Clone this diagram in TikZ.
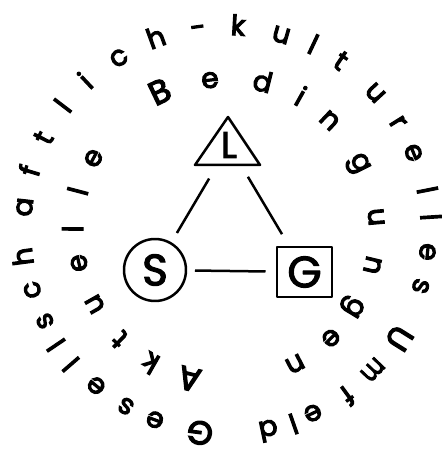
\documentclass[tikz,border=0pt]{standalone}
\usepackage{fontspec}
\newfontfamily\ringfont{Poppins}[FakeBold=4]
\newfontfamily\centfont{Poppins}[FakeBold=2.5]
\usetikzlibrary{calc}
\begin{document}
\begin{tikzpicture}[x=1pt,y=1pt,
  ring/.style={anchor=base, inner sep=0pt, font=\ringfont\fontsize{28}{28}\selectfont},
  capring/.style={anchor=base, inner sep=0pt, font=\ringfont\fontsize{33}{33}\selectfont},
  shapeline/.style={line width=2.5pt, line join=round},
  conn/.style={line width=2.5pt},
  big/.style={font=\centfont\fontsize{44}{44}\selectfont, inner sep=0pt}
]
\useasboundingbox (0,0) rectangle (442,451);
\coordinate (C) at (226,221);
% outer ring: Gesellschaftlich-kulturelles Umfeld
\foreach \a/\t [count=\i] in {249.5/e, 240.4/s, 230.2/e, 220.9/l, 214.1/l, 206.7/s, 197.2/c, 187.5/h, 173.5/a, 163.2/f, 153.2/t, 142.7/l, 133.3/i, 121.9/c, 110.0/h, 97.9/-, 86.6/k, 74.2/u, 64.8/l, 55.8/t, 42.6/u, 32.0/r, 22.4/e, 11.2/l, 3.6/l, -6.2/e, -16.1/s, -53.8/f, -64.6/e, -70.8/l, -78.0/d}
  \node[ring, rotate=\a-90] (o\i) at ($(C)+(\a:195)$) {\t};
\node[ring, rotate=-43.6-90, xscale=0.8] (om) at ($(C)+(-43.6:195)$) {m};
\foreach \a/\t [count=\i] in {262.7/G, -32.0/U}
  \node[capring, rotate=\a-90] (oc\i) at ($(C)+(\a:193)$) {\t};
% inner ring: Aktuelle Bedingungen
\foreach \a/\t [count=\i] in {240.4/k, 225.8/t, 209.5/u, 192.7/e, 179.6/l, 165.3/l, 151.6/e, 96.1/e, 76.1/d, 60.8/i, 46.6/n, 26.6/g, 4.9/u, -13.5/n, -31.2/g, -45.8/e, -62.7/n}
  \node[ring, rotate=\a-90] (i\i) at ($(C)+(\a:143)$) {\t};
\foreach \a/\t [count=\i] in {256.2/A, 115.6/B}
  \node[capring, rotate=\a-90] (ic\i) at ($(C)+(\a:142)$) {\t};
% centre
\node[big, font=\centfont\fontsize{37}{37}\selectfont] (L) at (229,306) {L};
\draw[shapeline] ($(L)+(-34,-20)$) -- ($(L)+(-1,28)$) -- ($(L)+(31,-20)$) -- cycle;
\node[big, draw, circle, minimum size=62pt, shapeline] (S) at (155,181) {S};
\node[big, draw, minimum width=55pt, minimum height=50pt, shapeline] (G) at (304.5,179) {G};
\draw[conn, shorten <=39pt, shorten >=43pt] (L.center) -- (S.center);
\draw[conn, shorten <=37pt, shorten >=44pt] (L.center) -- (G.center);
\draw[conn, shorten <=40pt, shorten >=39pt] (S.center) -- (G.center);
\end{tikzpicture}
\end{document}
